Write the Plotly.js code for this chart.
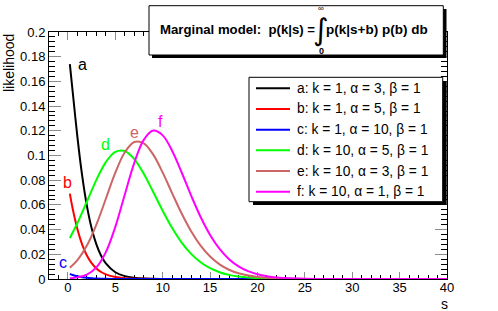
<!DOCTYPE html>
<html>
<head>
<meta charset="utf-8">
<script src="https://cdn.plot.ly/plotly-3.0.1.min.js"></script>
<style>html,body{margin:0;padding:0;background:#fff;}#chart{width:498px;height:311px;}</style>
</head>
<body>
<div id="chart"></div>
<script>
// ---- data ----
const sABC = [0.2, 0.5, 1, 1.5, 2, 2.5, 3, 3.5, 4, 5, 6, 7, 8, 10, 12, 15, 20, 30, 40];
const curveA = [0.17398, 0.15163, 0.11496, 0.083674, 0.059209, 0.041042, 0.028005, 0.018873, 0.012592, 0.0054746, 0.0023238, 0.00096888, 0.00039836, 0.00006526, 0.00001037, 0.00000063, 0, 0, 0];
const curveB = [0.06908, 0.056862, 0.040237, 0.027891, 0.019031, 0.012826, 0.0085571, 0.0056619, 0.0037204, 0.0015792, 0.00065842, 0.00027071, 0.00011008, 0.00001773, 0.0000028, 0.00000017, 0, 0, 0];
const curveC = [0.0041576, 0.0032577, 0.0021556, 0.0014164, 0.00092514, 0.00060121, 0.00038896, 0.00025066, 0.00016098, 0.0000658, 0.00002663, 0.0000107, 0.0000043, 0.0000007, 0.0000001, 0, 0, 0, 0];
const sDE = [0.2, 1, 2, 3, 4, 5, 6, 7, 8, 9, 10, 11, 12, 13, 14, 15, 16, 17, 18, 20, 22, 25, 30, 40];
const curveD = [0.03324, 0.04538, 0.06276, 0.08029, 0.09469, 0.10298, 0.10365, 0.09709, 0.08516, 0.0704, 0.05518, 0.04123, 0.02952, 0.02034, 0.01353, 0.00873, 0.00547, 0.00334, 0.0020, 0.00067, 0.00021, 0.000032, 0.0000011, 0];
const curveE = [0.009196, 0.01526, 0.02706, 0.04408, 0.06496, 0.08604, 0.1026, 0.11096, 0.1099, 0.10068, 0.08613, 0.06938, 0.05299, 0.03862, 0.0270, 0.01819, 0.01185, 0.00749, 0.00461, 0.00163, 0.00053, 0.000086, 0.0000032, 0];
const sF = [0.2, 1, 2, 3, 4, 5, 6, 7, 8, 9, 10, 11, 12, 13, 14, 15, 16, 17, 18, 19, 20, 21, 22, 25, 30, 40];
const curveF = [0.0005964, 0.0013273, 0.0035977, 0.00939, 0.021751, 0.042251, 0.0684, 0.094072, 0.11266, 0.12015, 0.11628, 0.10369, 0.086226, 0.06753, 0.050211, 0.035673, 0.024349, 0.01604, 0.010237, 0.0063585, 0.0038382, 0.0022667, 0.0013106, 0.00022677, 0.0000091, 0];
const curveNames = ['a', 'b', 'c', 'd', 'e', 'f'];
const legendLabels = [
  'a: k = 1, \u03b1 = 3, \u03b2 = 1',
  'b: k = 1, \u03b1 = 5, \u03b2 = 1',
  'c: k = 1, \u03b1 = 10, \u03b2 = 1',
  'd: k = 10, \u03b1 = 5, \u03b2 = 1',
  'e: k = 10, \u03b1 = 3, \u03b2 = 1',
  'f: k = 10, \u03b1 = 1, \u03b2 = 1'
];
// curve label anchor points (data coordinates)
const labelS = [1.5, 0.0, -0.5, 4.0, 7.0, 9.8];
const labelY = [0.174, 0.0784, 0.0134, 0.1089, 0.1187, 0.1275];
const xTitle = 's';
const yTitle = 'likelihood';

// ---- styling ----
const colors = ['#000000', '#ff0000', '#0000ff', '#00ff00', '#cc6666', '#ff00ff'];
const FONT = 'Liberation Sans, Arial, Helvetica, sans-serif';
const M = {l: 49, r: 51, t: 32, b: 32};
const W = 498, H = 311;
const PW = W - M.l - M.r, PH = H - M.t - M.b;
const px = x => (x - M.l) / PW;
const py = y => 1 - (y - M.t) / PH;

const xs = [sABC, sABC, sABC, sDE, sDE, sF];
const ys = [curveA, curveB, curveC, curveD, curveE, curveF];
const traces = ys.map((y, i) => ({
  x: xs[i], y: y, type: 'scatter', mode: 'lines', name: legendLabels[i],
  line: {color: colors[i], width: 2, shape: 'spline', smoothing: 1},
  cliponaxis: false,
  hoverinfo: 'skip', showlegend: false
}));

const shapes = [];
const annotations = [];
// title pave with shadow
shapes.push({type: 'rect', xref: 'paper', yref: 'paper', x0: px(152), x1: px(446.5), y0: py(58), y1: py(9), fillcolor: '#000', line: {width: 0}});
shapes.push({type: 'rect', xref: 'paper', yref: 'paper', x0: px(149), x1: px(443.3), y0: py(55), y1: py(5.7), fillcolor: '#fff', line: {color: '#000', width: 1}});
// legend box with shadow
shapes.push({type: 'rect', xref: 'paper', yref: 'paper', x0: px(253), x1: px(446.7), y0: py(205), y1: py(81), fillcolor: '#000', line: {width: 0}});
shapes.push({type: 'rect', xref: 'paper', yref: 'paper', x0: px(249), x1: px(442.7), y0: py(201.7), y1: py(77.3), fillcolor: '#fff', line: {color: '#000', width: 1}});
legendLabels.forEach((t, i) => {
  const yc = 88.3 + i * 20.68;
  shapes.push({type: 'line', xref: 'paper', yref: 'paper', x0: px(256), x1: px(290), y0: py(yc), y1: py(yc), line: {color: colors[i], width: 2}});
  annotations.push({xref: 'paper', yref: 'paper', x: px(295), y: py(yc), xanchor: 'left', yanchor: 'middle', text: t, showarrow: false, font: {family: FONT, size: 13.8, color: '#000'}});
});
// curve labels
curveNames.forEach((n, i) => {
  annotations.push({xref: 'x', yref: 'y', x: labelS[i], y: labelY[i], xanchor: 'center', yanchor: 'middle', text: n, showarrow: false, font: {family: FONT, size: 16, color: colors[i]}});
});
// title text
annotations.push({xref: 'paper', yref: 'paper', x: px(158), y: py(30), xanchor: 'left', yanchor: 'middle', text: '<b>Marginal model:\u00a0 p(k|s) =</b>', showarrow: false, font: {family: FONT, size: 13.2, color: '#000'}});
annotations.push({xref: 'paper', yref: 'paper', x: px(321), y: py(30), xanchor: 'center', yanchor: 'middle', text: '\u222b', showarrow: false, font: {family: 'DejaVu Sans, sans-serif', size: 30, color: '#000'}});
annotations.push({xref: 'paper', yref: 'paper', x: px(321), y: py(8.5), xanchor: 'center', yanchor: 'middle', text: '\u221e', showarrow: false, font: {family: FONT, size: 8, color: '#000'}});
annotations.push({xref: 'paper', yref: 'paper', x: px(321.5), y: py(50.5), xanchor: 'center', yanchor: 'middle', text: '<b>0</b>', showarrow: false, font: {family: FONT, size: 9, color: '#000'}});
annotations.push({xref: 'paper', yref: 'paper', x: px(324), y: py(30), xanchor: 'left', yanchor: 'middle', text: '<b>p(k|s+b) p(b) db</b>', showarrow: false, font: {family: FONT, size: 13.5, color: '#000'}});
// axis titles (ROOT style: at the axis ends)
annotations.push({xref: 'paper', yref: 'paper', x: px(9), y: py(32), xanchor: 'center', yanchor: 'top', textangle: -90, text: yTitle, showarrow: false, font: {family: FONT, size: 14, color: '#000'}});
annotations.push({xref: 'paper', yref: 'paper', x: px(444), y: py(304), xanchor: 'center', yanchor: 'middle', text: xTitle, showarrow: false, font: {family: FONT, size: 14, color: '#000'}});

const layout = {
  width: W, height: H, margin: M,
  paper_bgcolor: '#fff', plot_bgcolor: '#fff',
  showlegend: false,
  font: {family: FONT, size: 13, color: '#000'},
  xaxis: {
    range: [-2, 40], tick0: 0, dtick: 5, showgrid: false, zeroline: false,
    showline: true, linecolor: '#000', linewidth: 1, mirror: 'allticks', layer: 'below traces',
    ticks: 'inside', ticklen: 7.5, tickwidth: 1, tickcolor: '#8c8c8c',
    tickfont: {family: FONT, size: 13, color: '#000'}, ticklabelstandoff: -4,
    minor: {dtick: 1, tick0: 0, ticks: 'inside', ticklen: 3.7, tickcolor: '#000', tickwidth: 1, showgrid: false}
  },
  yaxis: {
    range: [0, 0.2], tick0: 0, dtick: 0.02, showgrid: false, zeroline: false,
    showline: true, linecolor: '#000', linewidth: 1, mirror: 'allticks', layer: 'below traces',
    ticks: 'inside', ticklen: 12, tickwidth: 1, tickcolor: '#8c8c8c',
    tickfont: {family: FONT, size: 13, color: '#000'}, ticklabelstandoff: 0,
    minor: {dtick: 0.004, tick0: 0, ticks: 'inside', ticklen: 6, tickcolor: '#000', tickwidth: 1, showgrid: false}
  },
  shapes: shapes,
  annotations: annotations
};

Plotly.newPlot('chart', traces, layout, {staticPlot: true, displayModeBar: false});
</script>
</body>
</html>
